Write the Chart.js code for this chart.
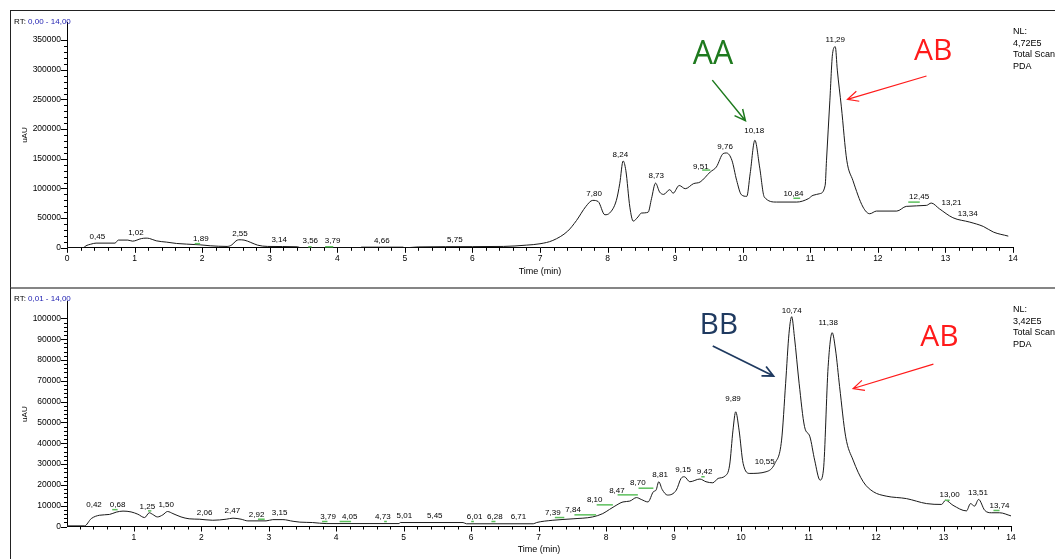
<!DOCTYPE html>
<html lang="en">
<head>
<meta charset="utf-8">
<title>PDA chromatograms</title>
<script src="https://cdn.jsdelivr.net/npm/chart.js"></script>
<style>
  body { margin: 0; background: #fff; }
  #page { position: relative; width: 1055px; height: 559px; overflow: hidden; font-family: "Liberation Sans", Arial, sans-serif; color: #000; }
  .panel { position: absolute; left: 10px; width: 1060px; border-left: 1px solid #222; }
  #panelTop { top: 10px; height: 276px; border-top: 1px solid #222; border-bottom: 2px solid #858585; }
  #panelBottom { top: 288px; height: 271px; }
  .panel canvas { position: absolute; left: 0; top: 0; }
  .rt { position: absolute; left: 3px; top: 6px; font-size: 8px; white-space: nowrap; }
  .rt span { color: #1c1cb0; }
  .nl { position: absolute; left: 1002px; font-size: 9px; line-height: 11.7px; white-space: nowrap; }
</style>
</head>
<body>
<div id="page">
  <div class="panel" id="panelTop">
    <canvas id="topChart" width="1044" height="276"></canvas>
    <div class="rt">RT: <span>0,00 - 14,00</span></div>
    <div class="nl" style="top:15px">NL:<br>4,72E5<br>Total Scan<br>PDA</div>
  </div>
  <div class="panel" id="panelBottom">
    <canvas id="bottomChart" width="1044" height="271"></canvas>
    <div class="rt">RT: <span>0,01 - 14,00</span></div>
    <div class="nl" style="top:16px">NL:<br>3,42E5<br>Total Scan<br>PDA</div>
  </div>
</div>

<script>
// ---- upper trace (RT 0,00 - 14,00) ----
const topRT = [0, 0.24, 0.28, 0.35, 0.43, 0.71, 0.76, 0.90, 0.97, 1.10, 1.17, 1.22, 1.32, 1.47, 1.62, 1.77, 1.97, 2.12, 2.37, 2.44,
  2.50, 2.54, 2.62, 2.72, 2.82, 2.97, 3.41, 3.46, 4.34, 4.36, 4.97, 5.00, 5.20, 6.00, 6.46, 6.80, 7.00, 7.19, 7.41, 7.54,
  7.68, 7.78, 7.86, 7.96, 8.03, 8.13, 8.18, 8.23, 8.27, 8.33, 8.38, 8.45, 8.50, 8.60, 8.65, 8.71, 8.77, 8.83, 8.92, 8.97,
  9.06, 9.15, 9.27, 9.37, 9.52, 9.61, 9.71, 9.76, 9.84, 9.91, 9.98, 10.06, 10.11, 10.18, 10.25, 10.32, 10.50, 10.80, 10.97, 11.04,
  11.14, 11.22, 11.24, 11.29, 11.33, 11.37, 11.40, 11.46, 11.54, 11.63, 11.78, 11.88, 11.98, 12.28, 12.42, 12.72, 12.79, 12.91, 13.11, 13.36,
  13.56, 13.71, 13.93];
const topSignal = [0, 0, 3400, 6000, 7900, 7900, 13000, 13000, 11200, 15500, 16300, 15700, 11800, 9600, 7300, 6200, 5000, 3400, 2300, 5000,
  11500, 13500, 13000, 9000, 4500, 2300, 1700, 0, 0, 1100, 1100, 0, 1500, 2000, 2300, 4500, 6800, 12400, 28100, 46000,
  69800, 79900, 78000, 55700, 58500, 79900, 108000, 146300, 130500, 68400, 45000, 52000, 58500, 60000, 82700, 109000, 94000, 90000, 98000, 92000,
  105000, 99600, 108000, 110900, 127800, 136200, 158700, 159800, 147500, 113700, 89500, 86700, 124900, 181200, 136200, 85500, 77100, 77100, 82700, 88400,
  91200, 105200, 147500, 248800, 327500, 338800, 299400, 237500, 147500, 113700, 68700, 57400, 61900, 61900, 69800, 71500, 75400, 65800, 50700, 43300,
  36000, 26500, 19700];

// peak labels: text, where it sits (RT, height)
const topPeakText = ['0,45', '1,02', '1,89', '2,55', '3,14', '3,56', '3,79', '4,66', '5,75', '7,80', '8,24', '8,73', '9,51', '9,76', '10,18', '10,84', '11,29', '12,45', '13,21', '13,34'];
const topPeakRT   = [0.45, 1.02, 1.98, 2.56, 3.14, 3.60, 3.93, 4.66, 5.74, 7.80, 8.19, 8.72, 9.38, 9.74, 10.17, 10.75, 11.37, 12.61, 13.09, 13.33];
const topPeakH    = [18700, 25400, 15300, 24400, 13100, 11500, 11500, 12000, 13100, 91800, 156400, 121000, 136700, 170400, 197300, 91800, 351300, 86100, 75000, 58100];

// green baseline marks: start RT, end RT, level
const topMarkFrom  = [1.89, 3.57, 3.82, 9.40, 10.75, 12.45];
const topMarkTo    = [1.97, 3.62, 3.94, 9.52, 10.85, 12.62];
const topMarkLevel = [7000, 1800, 1800, 131000, 83500, 77000];

// ---- lower trace (RT 0,01 - 14,00) ----
const bottomRT = [0.01, 0.27, 0.37, 0.49, 0.64, 0.74, 0.84, 0.96, 1.06, 1.16, 1.23, 1.28, 1.35, 1.43, 1.50, 1.58, 1.70, 1.82, 1.97, 2.17,
  2.37, 2.47, 2.59, 2.69, 2.96, 3.06, 3.21, 3.36, 3.46, 3.65, 3.85, 4.93, 4.95, 5.88, 5.93, 6.92, 6.97, 7.21, 7.51, 7.80,
  7.95, 8.05, 8.13, 8.25, 8.35, 8.45, 8.52, 8.62, 8.70, 8.74, 8.78, 8.83, 8.91, 9.04, 9.11, 9.16, 9.24, 9.39, 9.48, 9.58,
  9.66, 9.76, 9.83, 9.88, 9.92, 9.97, 10.03, 10.13, 10.37, 10.50, 10.60, 10.66, 10.71, 10.75, 10.79, 10.86, 10.94, 11.02, 11.09, 11.17,
  11.22, 11.29, 11.35, 11.40, 11.46, 11.55, 11.66, 11.81, 11.96, 12.15, 12.45, 12.75, 12.97, 13.03, 13.14, 13.34, 13.40, 13.46, 13.52, 13.61,
  13.71, 13.83, 14.00];
const bottomSignal = [300, 300, 3800, 5400, 5800, 6900, 7400, 7000, 5900, 4300, 6600, 5800, 4600, 5600, 7200, 6200, 4600, 3700, 3500, 3000,
  3500, 4000, 3500, 2700, 2700, 3300, 3300, 2500, 2100, 1900, 1400, 1400, 1900, 1900, 1300, 1300, 1900, 3000, 3700, 4600,
  6200, 8200, 9800, 11800, 12200, 13900, 13000, 11800, 16700, 17500, 21500, 17800, 15100, 17500, 23100, 23900, 21500, 22800, 21500, 21000,
  23100, 24200, 29500, 46300, 55100, 46300, 30300, 25500, 26300, 30300, 41500, 68800, 92800, 100800, 91200, 68800, 48000, 43100, 31900, 22300,
  27100, 76800, 93100, 84800, 67200, 43100, 31900, 21500, 16700, 14600, 13400, 11000, 10600, 12600, 10200, 7500, 11000, 9800, 13000, 7800,
  6600, 6600, 5100];

const bottomPeakText = ['0,42', '0,68', '1,25', '1,50', '2,06', '2,47', '2,92', '3,15', '3,79', '4,05', '4,73', '5,01', '5,45', '6,01', '6,28', '6,71',
  '7,39', '7,84', '8,10', '8,47', '8,70', '8,81', '9,15', '9,42', '9,89', '10,55', '10,74', '11,38', '13,00', '13,51', '13,74'];
const bottomPeakRT = [0.41, 0.76, 1.20, 1.48, 2.05, 2.46, 2.82, 3.16, 3.88, 4.20, 4.69, 5.01, 5.46, 6.05, 6.35, 6.70,
  7.21, 7.51, 7.83, 8.16, 8.47, 8.80, 9.14, 9.46, 9.88, 10.35, 10.75, 11.29, 13.09, 13.51, 13.83];
const bottomPeakH = [10200, 10200, 9400, 10200, 6700, 7500, 5800, 6700, 4600, 4600, 4600, 5100, 5100, 4600, 4600, 4600,
  6500, 7800, 12600, 17100, 21000, 24700, 27100, 26300, 61500, 31100, 103700, 98100, 15000, 16200, 9800];

const bottomMarkFrom  = [0.68, 1.21, 2.84, 3.79, 4.05, 4.71, 6.00, 6.30, 7.24, 7.53, 7.86, 8.17, 8.48, 9.41, 13.02, 13.74];
const bottomMarkTo    = [0.76, 1.26, 2.94, 3.87, 4.22, 4.75, 6.04, 6.36, 7.38, 7.85, 8.10, 8.47, 8.70, 9.46, 13.09, 13.83];
const bottomMarkLevel = [8100, 7500, 3500, 2400, 2400, 2400, 2400, 2400, 4300, 5600, 10400, 15200, 18400, 23900, 12600, 7700];

// hand-written call-outs: text, anchor (RT, height), arrow from/to (RT, height)
const topNoteText  = ['AA', 'AB'];
const topNoteRT    = [9.56, 12.82];
const topNoteH     = [324900, 330400];
const topArrowFrom = [[9.55, 282600], [12.72, 289500]];
const topArrowTo   = [[10.04, 214200], [11.55, 250200]];

const bottomNoteText  = ['BB', 'AB'];
const bottomNoteRT    = [9.67, 12.94];
const bottomNoteH     = [96400, 90800];
const bottomArrowFrom = [[9.58, 86700], [12.85, 78000]];
const bottomArrowTo   = [[10.48, 72300], [11.66, 66300]];

const pts = (xs, ys) => xs.map((x, i) => ({x: x, y: ys[i]}));

// axis tick marks (major + minor) drawn along the scales
const tickMarks = {
  id: 'tickMarks',
  afterDatasetsDraw(chart, args, o) {
    const {ctx, chartArea: a, scales: {x, y}} = chart;
    ctx.save();
    ctx.strokeStyle = '#000';
    ctx.lineWidth = 1;
    ctx.beginPath();
    for (let i = Math.ceil(x.min / o.xMinor - 1e-6); i * o.xMinor <= x.max + 1e-9; i++) {
      const px = Math.round(x.getPixelForValue(i * o.xMinor)) + 0.5;
      const len = i % o.xPer === 0 ? 5 : 3;
      ctx.moveTo(px, a.bottom);
      ctx.lineTo(px, a.bottom + len);
    }
    for (let j = 0; j * o.yMinor <= o.yTop; j++) {
      const py = Math.round(y.getPixelForValue(j * o.yMinor)) + 0.5;
      const len = j % o.yPer === 0 ? 6 : 3;
      ctx.moveTo(a.left, py);
      ctx.lineTo(a.left - len, py);
    }
    ctx.stroke();
    ctx.restore();
  }
};

// RT labels, baseline marks and call-outs
const peakNotes = {
  id: 'peakNotes',
  afterDatasetsDraw(chart, args, o) {
    const {ctx, scales: {x, y}} = chart;
    ctx.save();
    ctx.strokeStyle = '#5cbf5c';
    ctx.lineWidth = 1.5;
    o.markFrom.forEach((t, i) => {
      const py = y.getPixelForValue(o.markLevel[i]);
      ctx.beginPath();
      ctx.moveTo(x.getPixelForValue(t), py);
      ctx.lineTo(x.getPixelForValue(o.markTo[i]), py);
      ctx.stroke();
    });
    ctx.fillStyle = '#000';
    ctx.font = '8px "Liberation Sans", Arial, sans-serif';
    ctx.textAlign = 'center';
    ctx.textBaseline = 'middle';
    o.text.forEach((s, i) => {
      ctx.fillText(s, x.getPixelForValue(o.rt[i]), y.getPixelForValue(o.h[i]));
    });
    o.noteText.forEach((s, i) => {
      ctx.fillStyle = o.noteColor[i];
      ctx.strokeStyle = o.noteColor[i];
      ctx.font = o.noteSize[i] + 'px "Open Sans", sans-serif';
      ctx.fillText(s, x.getPixelForValue(o.noteRT[i]), y.getPixelForValue(o.noteH[i]));
      const x0 = x.getPixelForValue(o.from[i][0]), y0 = y.getPixelForValue(o.from[i][1]);
      const x1 = x.getPixelForValue(o.to[i][0]), y1 = y.getPixelForValue(o.to[i][1]);
      const ang = Math.atan2(y1 - y0, x1 - x0);
      ctx.lineWidth = o.noteWidth[i];
      ctx.beginPath();
      ctx.moveTo(x0, y0);
      ctx.lineTo(x1, y1);
      ctx.moveTo(x1 - 12 * Math.cos(ang - 0.45), y1 - 12 * Math.sin(ang - 0.45));
      ctx.lineTo(x1, y1);
      ctx.lineTo(x1 - 12 * Math.cos(ang + 0.45), y1 - 12 * Math.sin(ang + 0.45));
      ctx.stroke();
    });
    ctx.restore();
  }
};

const axisFont = {family: '"Liberation Sans", Arial, sans-serif', size: 8.5};

function makeChart(id, cfg) {
  return new Chart(document.getElementById(id), {
    type: 'line',
    data: {
      datasets: [{
        data: cfg.points,
        borderColor: '#1a1a1a',
        borderWidth: 1,
        pointRadius: 0,
        cubicInterpolationMode: 'monotone',
        fill: false
      }]
    },
    options: {
      responsive: false,
      animation: false,
      events: [],
      layout: {padding: {top: cfg.padTop, right: cfg.padRight, left: 0, bottom: 0}},
      plugins: {
        legend: {display: false},
        tooltip: {enabled: false},
        tickMarks: cfg.ticks,
        peakNotes: cfg.notes
      },
      scales: {
        x: {
          type: 'linear',
          min: cfg.xMin,
          max: 14,
          grid: {display: false, drawTicks: false},
          border: {display: true, color: '#000', width: 1},
          ticks: {padding: 6, color: '#000', font: axisFont, maxRotation: 0, autoSkip: false},
          afterBuildTicks(s) {
            s.ticks = [];
            for (let v = Math.ceil(cfg.xMin); v <= 14; v++) s.ticks.push({value: v});
          },
          title: {
            display: true,
            text: 'Time (min)',
            color: '#000',
            font: {family: '"Liberation Sans", Arial, sans-serif', size: 9},
            padding: {top: 0, bottom: cfg.titlePad}
          },
          afterFit(s) { s.height = cfg.xHeight; }
        },
        y: {
          min: 0,
          max: cfg.yMax,
          grid: {display: false, drawTicks: false},
          border: {display: true, color: '#000', width: 1},
          ticks: {padding: 6, color: '#000', font: axisFont, callback: v => String(v)},
          afterBuildTicks(s) {
            s.ticks = [];
            for (let v = 0; v <= cfg.ticks.yTop; v += cfg.yStep) s.ticks.push({value: v});
          },
          title: {
            display: true,
            text: 'uAU',
            color: '#000',
            font: {family: '"Liberation Sans", Arial, sans-serif', size: 8},
            padding: {top: 9, bottom: 0}
          },
          afterFit(s) { s.width = 56; }
        }
      }
    },
    plugins: [tickMarks, peakNotes]
  });
}

makeChart('topChart', {
  points: pts(topRT, topSignal),
  xMin: 0, yMax: 380000, yStep: 50000,
  padTop: 11.3, padRight: 42, xHeight: 39.2, titlePad: 9.9,
  ticks: {xMinor: 0.2, xPer: 5, yMinor: 10000, yPer: 5, yTop: 350000},
  notes: {
    text: topPeakText, rt: topPeakRT, h: topPeakH,
    markFrom: topMarkFrom, markTo: topMarkTo, markLevel: topMarkLevel,
    noteText: topNoteText, noteRT: topNoteRT, noteH: topNoteH,
    from: topArrowFrom, to: topArrowTo,
    noteColor: ['#1e7a1e', '#ff1a1a'], noteSize: [32, 30], noteWidth: [1.5, 1.2]
  }
});

makeChart('bottomChart', {
  points: pts(bottomRT, bottomSignal),
  xMin: 0.01, yMax: 108000, yStep: 10000,
  padTop: 13.7, padRight: 44, xHeight: 32.5, titlePad: 3.6,
  ticks: {xMinor: 0.2, xPer: 5, yMinor: 2000, yPer: 5, yTop: 100000},
  notes: {
    text: bottomPeakText, rt: bottomPeakRT, h: bottomPeakH,
    markFrom: bottomMarkFrom, markTo: bottomMarkTo, markLevel: bottomMarkLevel,
    noteText: bottomNoteText, noteRT: bottomNoteRT, noteH: bottomNoteH,
    from: bottomArrowFrom, to: bottomArrowTo,
    noteColor: ['#1f3a60', '#ff1a1a'], noteSize: [30, 30], noteWidth: [1.8, 1.2]
  }
});
</script>
</body>
</html>
